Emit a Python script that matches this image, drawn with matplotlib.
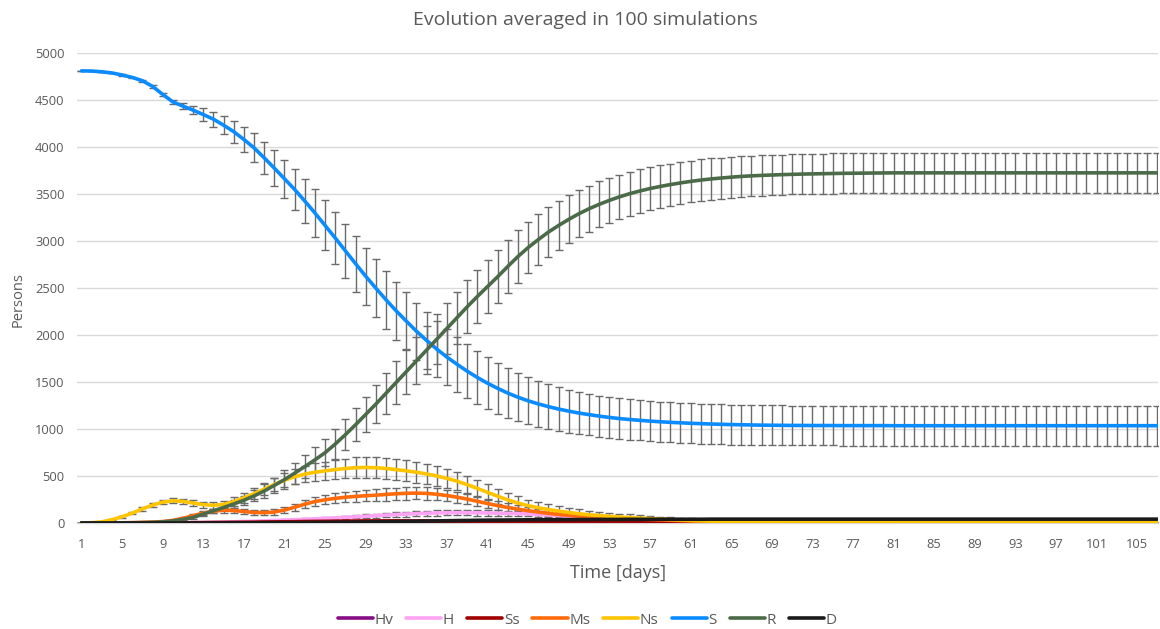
import numpy as np
import matplotlib
matplotlib.use("Agg")
import matplotlib.pyplot as plt
from matplotlib.lines import Line2D

plt.rcParams['font.family'] = ['Open Sans', 'DejaVu Sans']

# ---------------- data (days 1..107) ----------------
Hv = [0, 0, 0, 0, 0, 0, 0, 0, 0, 0,
      0, 0, 1, 1, 2, 2, 3, 4, 5, 6,
      7, 8, 9, 10, 11, 12, 13, 14, 15, 16,
      17, 18, 19, 19, 20, 20, 20, 20, 20, 20,
      19, 19, 18, 17, 16, 15, 14, 13, 12, 11,
      10, 9, 8, 7, 6, 5, 4, 3, 3, 2,
      2, 1, 1, 1, 1, 0, 0, 0, 0, 0,
      0, 0, 0, 0, 0, 0, 0, 0, 0, 0,
      0, 0, 0, 0, 0, 0, 0, 0, 0, 0,
      0, 0, 0, 0, 0, 0, 0, 0, 0, 0,
      0, 0, 0, 0, 0, 0, 0]

H = [0, 0, 0, 0, 0, 0, 0, 0, 1, 2,
     3, 4, 6, 8, 10, 13, 16, 19, 23, 27,
     31, 35, 39, 44, 49, 54, 60, 66, 72, 78,
     84, 90, 95, 100, 104, 107, 109, 110, 110, 109,
     107, 104, 102, 100, 96, 91, 85, 78, 70, 62,
     53, 45, 38, 31, 25, 20, 16, 12, 9, 7,
     5, 4, 3, 2, 2, 1, 1, 1, 0, 0,
     0, 0, 0, 0, 0, 0, 0, 0, 0, 0,
     0, 0, 0, 0, 0, 0, 0, 0, 0, 0,
     0, 0, 0, 0, 0, 0, 0, 0, 0, 0,
     0, 0, 0, 0, 0, 0, 0]

Ss = [0, 0, 0, 0, 0, 0, 0, 0, 0, 1,
      2, 3, 4, 5, 6, 7, 8, 9, 11, 12,
      13, 14, 16, 17, 18, 19, 20, 21, 22, 22,
      22, 22, 21, 20, 19, 18, 17, 15, 14, 13,
      12, 11, 10, 9, 8, 7, 7, 6, 6, 5,
      5, 5, 4, 4, 4, 4, 3, 3, 3, 3,
      3, 2, 2, 2, 2, 1, 1, 1, 1, 1,
      0, 0, 0, 0, 0, 0, 0, 0, 0, 0,
      0, 0, 0, 0, 0, 0, 0, 0, 0, 0,
      0, 0, 0, 0, 0, 0, 0, 0, 0, 0,
      0, 0, 0, 0, 0, 0, 0]

Ms = [0, 0, 0, 1, 2, 4, 7, 10, 15, 28,
      50, 78, 105, 125, 136, 133, 122, 112, 110, 117,
      138, 168, 200, 228, 247, 262, 274, 283, 290, 296,
      304, 311, 316, 318, 315, 306, 292, 275, 254, 231,
      207, 185, 165, 147, 131, 116, 103, 91, 81, 73,
      66, 60, 55, 50, 45, 41, 37, 33, 29, 25,
      21, 18, 15, 12, 10, 8, 6, 5, 4, 3,
      2, 2, 1, 1, 1, 1, 1, 0, 0, 0,
      0, 0, 0, 0, 0, 0, 0, 0, 0, 0,
      0, 0, 0, 0, 0, 0, 0, 0, 0, 0,
      0, 0, 0, 0, 0, 0, 0]

Ns = [0, 3, 12, 35, 67, 105, 150, 190, 222, 236,
      230, 212, 196, 188, 198, 228, 268, 312, 360, 410,
      455, 492, 520, 540, 555, 568, 580, 588, 591, 588,
      580, 568, 555, 540, 522, 500, 475, 445, 408, 368,
      326, 285, 246, 212, 184, 162, 143, 127, 112, 99,
      88, 79, 71, 64, 58, 52, 47, 42, 37, 32,
      28, 24, 20, 17, 14, 12, 10, 8, 7, 6,
      5, 5, 4, 4, 4, 3, 3, 3, 3, 3,
      2, 2, 2, 2, 2, 2, 2, 2, 2, 2,
      2, 2, 2, 2, 2, 2, 2, 2, 2, 2,
      2, 2, 2, 2, 2, 2, 2]

S = [4810, 4808, 4800, 4788, 4766, 4740, 4705, 4645, 4560, 4480,
     4435, 4392, 4345, 4296, 4232, 4163, 4080, 3991, 3885, 3775,
     3662, 3548, 3425, 3298, 3165, 3032, 2895, 2759, 2625, 2498,
     2375, 2257, 2148, 2040, 1942, 1850, 1765, 1688, 1615, 1548,
     1487, 1432, 1382, 1338, 1300, 1267, 1238, 1212, 1190, 1170,
     1153, 1137, 1123, 1111, 1101, 1092, 1084, 1077, 1071, 1066,
     1061, 1057, 1053, 1050, 1047, 1045, 1043, 1041, 1040, 1039,
     1038, 1038, 1037, 1037, 1037, 1036, 1036, 1036, 1036, 1036,
     1035, 1035, 1035, 1035, 1035, 1035, 1035, 1035, 1035, 1035,
     1035, 1035, 1035, 1035, 1035, 1035, 1035, 1035, 1035, 1035,
     1035, 1035, 1035, 1035, 1035, 1035, 1035]

R = [0, 0, 0, 0, 1, 2, 4, 7, 12, 22,
     38, 60, 95, 130, 165, 202, 242, 288, 340, 400,
     462, 530, 600, 672, 748, 840, 940, 1045, 1155, 1265,
     1380, 1495, 1610, 1725, 1840, 1955, 2070, 2185, 2300, 2410,
     2515, 2620, 2730, 2835, 2930, 3015, 3095, 3165, 3230, 3290,
     3343, 3390, 3432, 3470, 3503, 3532, 3558, 3580, 3600, 3618,
     3634, 3648, 3660, 3670, 3679, 3687, 3693, 3698, 3702, 3706,
     3709, 3712, 3714, 3716, 3718, 3720, 3721, 3722, 3723, 3724,
     3725, 3725, 3725, 3725, 3725, 3725, 3725, 3725, 3725, 3725,
     3725, 3725, 3725, 3725, 3725, 3725, 3725, 3725, 3725, 3725,
     3725, 3725, 3725, 3725, 3725, 3725, 3725]

D = [0, 0, 0, 0, 0, 0, 0, 0, 0, 0,
     0, 0, 1, 1, 1, 2, 2, 2, 3, 3,
     4, 4, 5, 6, 7, 8, 9, 10, 11, 13,
     14, 16, 17, 19, 21, 22, 24, 26, 27, 29,
     30, 31, 32, 33, 34, 35, 35, 36, 36, 37,
     37, 38, 38, 38, 39, 39, 39, 40, 40, 40,
     40, 40, 41, 41, 41, 41, 41, 41, 41, 41,
     41, 41, 41, 41, 41, 41, 41, 41, 41, 41,
     41, 41, 41, 41, 41, 41, 41, 41, 41, 41,
     41, 41, 41, 41, 41, 41, 41, 41, 41, 41,
     41, 41, 41, 41, 41, 41, 41]

# error bars (half widths)
H_err = [0, 0, 0, 0, 0, 0, 0, 0, 1, 1,
         2, 2, 3, 3, 4, 5, 6, 7, 8, 9,
         10, 11, 12, 13, 14, 15, 17, 18, 20, 22,
         23, 25, 26, 27, 28, 29, 29, 30, 30, 30,
         29, 29, 28, 27, 26, 24, 23, 21, 19, 17,
         15, 13, 11, 9, 8, 6, 5, 4, 3, 3,
         2, 2, 1, 1, 1, 1, 0, 0, 0, 0,
         0, 0, 0, 0, 0, 0, 0, 0, 0, 0,
         0, 0, 0, 0, 0, 0, 0, 0, 0, 0,
         0, 0, 0, 0, 0, 0, 0, 0, 0, 0,
         0, 0, 0, 0, 0, 0, 0]

Ms_err = [0, 0, 0, 1, 1, 2, 3, 4, 5, 7,
          11, 16, 20, 23, 25, 26, 26, 26, 27, 29,
          32, 36, 40, 44, 48, 52, 55, 58, 61, 63,
          65, 66, 66, 66, 65, 63, 61, 58, 55, 52,
          49, 46, 43, 40, 37, 34, 32, 30, 28, 26,
          24, 22, 21, 19, 18, 17, 16, 15, 14, 13,
          12, 11, 10, 9, 8, 7, 6, 5, 4, 4,
          3, 3, 2, 2, 2, 2, 1, 1, 1, 1,
          0, 0, 0, 0, 0, 0, 0, 0, 0, 0,
          0, 0, 0, 0, 0, 0, 0, 0, 0, 0,
          0, 0, 0, 0, 0, 0, 0]

Ns_err = [0, 1, 3, 6, 10, 14, 18, 22, 25, 27,
          28, 30, 32, 36, 40, 46, 52, 58, 64, 70,
          76, 82, 88, 93, 98, 102, 106, 109, 111, 112,
          113, 113, 112, 111, 109, 106, 102, 98, 94, 90,
          85, 80, 75, 70, 66, 62, 58, 54, 50, 47,
          44, 41, 38, 35, 33, 30, 28, 26, 24, 22,
          20, 18, 16, 14, 12, 11, 10, 9, 8, 7,
          6, 6, 5, 5, 5, 4, 4, 4, 4, 4,
          3, 3, 3, 3, 3, 3, 3, 3, 3, 3,
          3, 3, 3, 3, 3, 3, 3, 3, 3, 3,
          3, 3, 3, 3, 3, 3, 3]

S_err = [0, 1, 2, 4, 7, 10, 13, 16, 18, 22,
         30, 45, 65, 80, 98, 117, 136, 154, 171, 188,
         203, 218, 235, 252, 266, 280, 290, 298, 305, 310,
         311, 310, 308, 305, 302, 298, 294, 290, 286, 283,
         278, 272, 265, 258, 251, 244, 238, 233, 228, 224,
         221, 219, 217, 216, 215, 214, 213, 213, 212, 212,
         212, 212, 212, 212, 212, 212, 212, 212, 212, 212,
         212, 212, 212, 212, 212, 212, 212, 212, 212, 212,
         212, 212, 212, 212, 212, 212, 212, 212, 212, 212,
         212, 212, 212, 212, 212, 212, 212, 212, 212, 212,
         212, 212, 212, 212, 212, 212, 212]

R_err = [0, 0, 0, 0, 1, 1, 2, 3, 4, 6,
         9, 13, 18, 24, 31, 39, 48, 58, 70, 84,
         97, 110, 122, 134, 145, 155, 165, 176, 190, 204,
         216, 228, 239, 249, 258, 266, 272, 277, 281, 284,
         285, 284, 282, 279, 275, 271, 266, 261, 256, 251,
         247, 243, 239, 236, 233, 230, 228, 226, 224, 222,
         221, 220, 219, 218, 217, 216, 215, 215, 214, 214,
         213, 213, 213, 213, 213, 213, 213, 213, 213, 213,
         213, 213, 213, 213, 213, 213, 213, 213, 213, 213,
         213, 213, 213, 213, 213, 213, 213, 213, 213, 213,
         213, 213, 213, 213, 213, 213, 213]

names = ['Hv', 'H', 'Ss', 'Ms', 'Ns', 'S', 'R', 'D']
series = [Hv, H, Ss, Ms, Ns, S, R, D]
errors = [None, H_err, None, Ms_err, Ns_err, S_err, R_err, None]
colors = ['#850D85', '#FFA3F5', '#A00000', '#FF6A0A', '#FFC400',
          '#0A8CFF', '#4B6B48', '#1A1A1A']

title = 'Evolution averaged in 100 simulations'
xlabel = 'Time [days]'
ylabel = 'Persons'
xticks = list(range(1, 106, 4))
yticks = list(range(0, 5001, 500))

days = np.arange(1, len(S) + 1)

# ---------------- figure ----------------
W, Hpx = 1160, 629
fig = plt.figure(figsize=(W / 100, Hpx / 100), dpi=100)
ax = fig.add_axes([77 / W, 1 - 523 / Hpx, (1158 - 77) / W, 470 / Hpx])

grid_c = '#D9D9D9'
tick_c = '#595959'

for ys, err in zip(series, errors):
    if err is not None:
        ax.errorbar(days, ys, yerr=err, fmt='none', ecolor='#6A6A6A',
                    elinewidth=1.0, capsize=2.8, capthick=1.0, zorder=2)

for i, (ys, c) in enumerate(zip(series, colors)):
    ax.plot(days, ys, color=c, lw=2.6, solid_capstyle='round',
            solid_joinstyle='round', zorder=3 + i * 0.1)

ax.set_xlim(0.56, 107.05)
ax.set_ylim(0, 5000)
ax.set_yticks(yticks)
ax.set_xticks(xticks)
ax.set_xticklabels([str(t) for t in xticks])
ax.grid(axis='y', color=grid_c, lw=1.0, zorder=0)
ax.set_axisbelow(True)
for s in ['top', 'right', 'left']:
    ax.spines[s].set_visible(False)
ax.spines['bottom'].set_color(grid_c)
ax.spines['bottom'].set_linewidth(1.0)
ax.tick_params(axis='both', length=0, colors=tick_c, labelsize=9.3)
ax.tick_params(axis='y', pad=9)
ax.tick_params(axis='x', pad=11)

fig.text(585 / W, 1 - 20 / Hpx, title, ha='center', va='center',
         fontsize=14, color=tick_c)
fig.text(618 / W, 1 - 573 / Hpx, xlabel, ha='center', va='center',
         fontsize=13, color=tick_c)
fig.text(18 / W, 1 - 300 / Hpx, ylabel, ha='center', va='center',
         rotation=90, fontsize=10.5, color=tick_c)

handles = [Line2D([0], [0], color=c, lw=2.6, solid_capstyle='round')
           for c in colors]
leg = fig.legend(handles, names, loc='center', bbox_to_anchor=(587 / W, 1 - 620 / Hpx),
                 ncol=8, frameon=False, handlelength=2.3, handletextpad=0.1,
                 columnspacing=0.85, fontsize=11)
for t in leg.get_texts():
    t.set_color(tick_c)

fig.savefig('out.png', dpi=100)
